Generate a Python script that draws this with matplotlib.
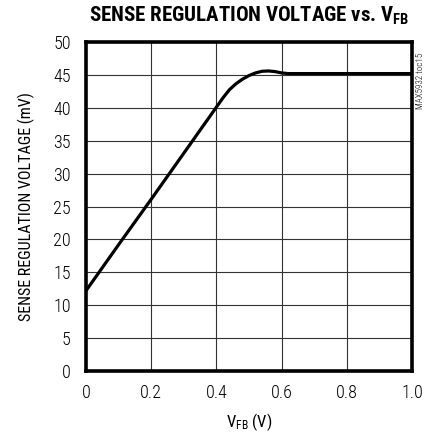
import matplotlib
matplotlib.use("Agg")
import matplotlib.pyplot as plt
from matplotlib import font_manager as fm

names = {f.name for f in fm.fontManager.ttflist}
def pick(*cands):
    for c in cands:
        if c in names:
            return c
    return 'DejaVu Sans'
body = pick('Roboto Condensed', 'Barlow Semi Condensed', 'IBM Plex Sans Condensed', 'Archivo Narrow')
head = pick('Roboto Condensed', 'Barlow Semi Condensed', 'Archivo Narrow')
plt.rcParams['font.family'] = [body, 'DejaVu Sans']
plt.rcParams['font.weight'] = 'light'
plt.rcParams['mathtext.default'] = 'regular'

vfb = [0, 0.1, 0.2, 0.3, 0.4, 0.42, 0.44, 0.46, 0.48, 0.50, 0.52, 0.54, 0.56, 0.58, 0.60, 0.62, 0.7, 0.8, 0.9, 1.0]
vsense = [12.2, 19.2, 26.1, 33.1, 40.1, 41.5, 42.75, 43.65, 44.35, 44.9, 45.3, 45.55, 45.6, 45.5, 45.3, 45.2, 45.2, 45.2, 45.2, 45.2]
xticks = [0, 0.2, 0.4, 0.6, 0.8, 1.0]
xticklabels = ['0', '0.2', '0.4', '0.6', '0.8', '1.0']
yticks = list(range(0, 51, 5))

fig = plt.figure(figsize=(4.31, 4.36), dpi=100)
ax = fig.add_axes([86/431, 1-371/436, (412-86)/431, (371-42)/436])
ax.plot(vfb, vsense, color='black', lw=2.3, solid_capstyle='butt', zorder=3)
ax.set_xlim(0, 1.0)
ax.set_ylim(0, 50)
ax.set_xticks(xticks)
ax.set_xticklabels(xticklabels)
ax.set_yticks(yticks)
ax.grid(True, color='#333333', lw=0.8)
ax.tick_params(length=0, labelsize=13)
ax.tick_params(axis='y', pad=11)
ax.tick_params(axis='x', pad=9)
for s in ax.spines.values():
    s.set_linewidth(2.6)
ax.set_xlabel('V$_{FB}$ (V)', fontsize=12, labelpad=7)
ax.set_ylabel('SENSE REGULATION VOLTAGE (mV)', fontsize=11.5, labelpad=13)
fig.text(249/431, 1-16/436, 'SENSE REGULATION VOLTAGE vs. V$_{FB}$', ha='center', va='center',
         fontsize=15, fontweight='heavy', family=[head, 'DejaVu Sans'])
fig.text(421/431, 1-81/436, 'MAX5932 toc15', rotation=90, ha='center', va='center', fontsize=6.5)
fig.savefig('out.png', dpi=100)
